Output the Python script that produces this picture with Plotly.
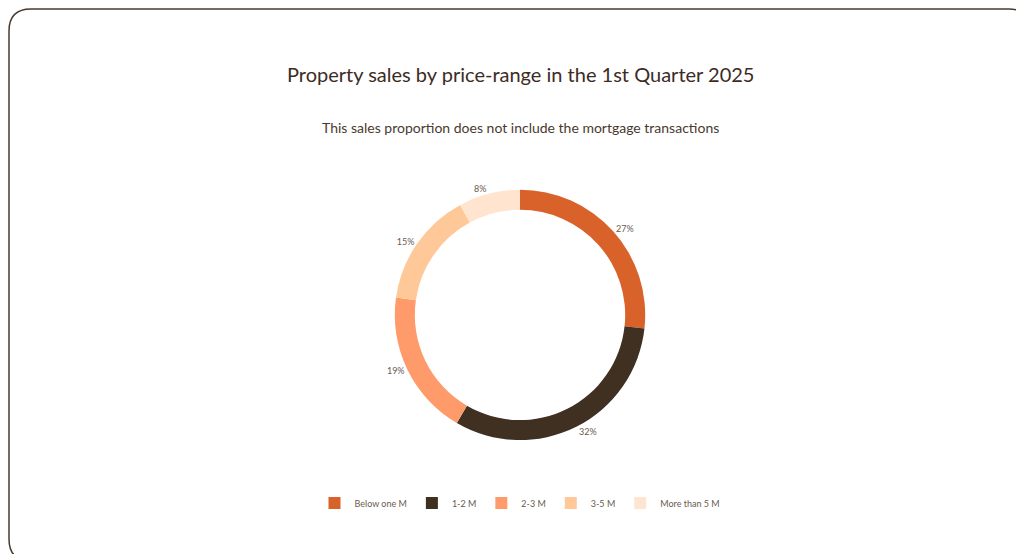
import plotly.graph_objects as go

labels = ["Below one M", "1-2 M", "2-3 M", "3-5 M", "More than 5 M"]
values = [27, 32, 19, 15, 8]
colors = ["#d9622b", "#3f3022", "#ff9b6a", "#ffc898", "#ffe5d0"]

W, H = 1024, 554
fig = go.Figure(go.Pie(
    labels=labels, values=values, hole=0.84, sort=False, direction="clockwise",
    rotation=0, marker=dict(colors=colors, line=dict(width=0)),
    texttemplate="%{value}%", textposition="outside",
    textfont=dict(size=9, color="#6b5a4e"),
    domain=dict(x=[0.3, 0.7], y=[0.22, 0.672]), hoverinfo="label+percent",
))
r = 22
fx = lambda v: v / W
fy = lambda v: 1 - v / H
x0, y0, x1, y1 = 1, 1, W - 1, H - 1
pts = [("M", x0 + r, y0), ("L", x1 - r, y0), ("Q", x1, y0, x1, y0 + r), ("L", x1, y1 - r),
       ("Q", x1, y1, x1 - r, y1), ("L", x0 + r, y1), ("Q", x0, y1, x0, y1 - r), ("L", x0, y0 + r),
       ("Q", x0, y0, x0 + r, y0)]
path = ""
for p in pts:
    c = p[0]
    coords = p[1:]
    s = " ".join(f"{fx(coords[i]):.5f},{fy(coords[i+1]):.5f}" for i in range(0, len(coords), 2))
    path += f"{c}{s} "
path += "Z"
fig.update_layout(
    width=W, height=H, margin=dict(l=0, r=0, t=0, b=0),
    paper_bgcolor="white", font=dict(family="Lato", color="#3d2b1f"),
    shapes=[dict(type="path", xref="paper", yref="paper", path=path,
                 line=dict(color="#4a3a2e", width=1.5), layer="above")],
    annotations=[
        dict(text="Property sales by price-range in the 1st Quarter 2025", x=0.5, y=1 - 52 / H,
             xref="paper", yref="paper", showarrow=False, font=dict(size=20, color="#3d2b1f")),
        dict(text="This sales proportion does not include the mortgage transactions", x=0.5, y=1 - 109 / H,
             xref="paper", yref="paper", showarrow=False, font=dict(size=14, color="#4a3a2e")),
    ],
    legend=dict(orientation="h", x=0.5, xanchor="center", y=1 - 495 / H, yanchor="middle",
                font=dict(size=9, color="#6b5a4e"), itemwidth=30),
)
fig.write_html("out.html")
